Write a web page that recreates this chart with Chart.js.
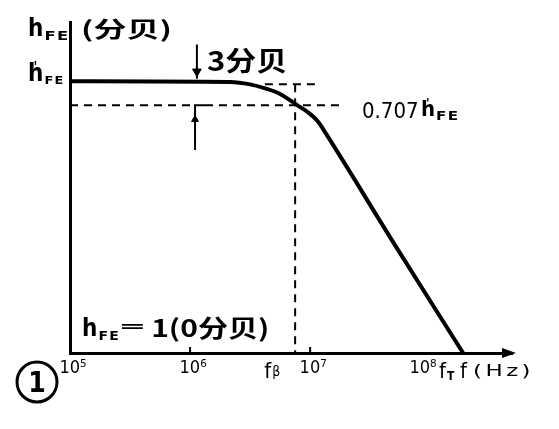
<!DOCTYPE html>
<html>
<head>
<meta charset="utf-8">
<script src="https://cdn.jsdelivr.net/npm/chart.js@4.4.1/dist/chart.umd.min.js"></script>
<style>
html, body { margin: 0; padding: 0; background: #fff; }
</style>
</head>
<body>
<canvas id="chart" width="559" height="429"></canvas>
<script>
// h_FE (in dB) against frequency, log frequency axis

// curve
const freqHz = [1e5, 2.15e6, 3.16e6, 4.22e6, 5.62e6, 7.8e6, 9.6e6, 1.17e7, 1.36e7, 5.06e7, 1.88e8];
const hfeDb  = [34.0, 33.9, 33.6, 33.1, 32.4, 31.0, 30.1, 28.9, 27.4, 13.56, 0];

const tickValues = [1e5, 1e6, 1e7, 1e8];
const tickLabels = ['10⁵', '10⁶', '10⁷', '10⁸    '];

const hfeTopDb = 34.0;     // h'FE
const cornerDb = 31.0;     // 0.707 h'FE
const guideTopDb = 33.6;
const fBeta = 7.5e6;
const fT = 1.88e8;

const latin = '"DejaVu Sans Condensed", "DejaVu Sans", sans-serif';
const cjk = '"Noto Sans CJK SC", sans-serif';

const curve = freqHz.map((f, i) => ({ x: f, y: hfeDb[i] }));

function dashed(points) {
    return {
        data: points,
        borderColor: '#000',
        borderWidth: 2,
        borderDash: [8, 6],
        pointRadius: 0,
        tension: 0
    };
}

function solid(points) {
    return {
        data: points,
        borderColor: '#000',
        borderWidth: 2,
        pointRadius: 0,
        tension: 0
    };
}

// text stretched sideways, returns the right edge
function wideText(ctx, text, x, y, font, scaleX, spacing) {
    ctx.save();
    ctx.font = font;
    ctx.letterSpacing = (spacing || 0) + 'px';
    const w = ctx.measureText(text).width;
    ctx.translate(x, y);
    ctx.scale(scaleX, 1);
    ctx.fillText(text, 0, 0);
    ctx.restore();
    return x + w * scaleX;
}

// "h" with subscript "FE", optional prime
function drawHfe(ctx, x, base, size, subSize, prime, subScale) {
    ctx.font = `bold ${size}px ${latin}`;
    ctx.fillText('h', x, base);
    const w = ctx.measureText('h').width;
    if (prime) {
        ctx.font = `bold ${Math.round(size * 0.6)}px ${latin}`;
        ctx.fillText("'", x + w * 0.35, base - size * 0.42);
    }
    return wideText(ctx, 'FE', x + w + 1, base + Math.round(subSize * 0.3),
        `bold ${subSize}px ${latin}`, subScale, 1);
}

const annotations = {
    id: 'annotations',
    afterDraw(chart) {
        const { ctx, chartArea: a, scales } = chart;
        const sx = scales.x, sy = scales.y;
        ctx.save();
        ctx.fillStyle = '#000';
        ctx.strokeStyle = '#000';

        // arrow on the frequency axis
        ctx.beginPath();
        ctx.moveTo(a.right + 4, a.bottom);
        ctx.lineTo(a.right - 10, a.bottom - 5);
        ctx.lineTo(a.right - 10, a.bottom + 5);
        ctx.closePath();
        ctx.fill();

        // small ticks above the axis
        ctx.lineWidth = 2;
        [1e6, 1e7].forEach(v => {
            const px = sx.getPixelForValue(v);
            ctx.beginPath();
            ctx.moveTo(px, a.bottom);
            ctx.lineTo(px, a.bottom - 6);
            ctx.stroke();
        });

        // y axis title
        drawHfe(ctx, 28, 36, 24, 13, false, 1.4);
        wideText(ctx, '(分贝)', 81, 37, `bold 22px ${cjk}`, 1.5);

        // h'FE level label
        drawHfe(ctx, 28, sy.getPixelForValue(hfeTopDb), 24, 11, true, 1.3);

        // 3 dB note
        wideText(ctx, '3分贝', 207, 71, `bold 27px ${cjk}`, 1.15);

        // 0.707 h'FE
        const yc = sy.getPixelForValue(cornerDb);
        ctx.font = `22px "Liberation Sans Narrow", ${latin}`;
        ctx.fillText('0.707', 362, yc + 13);
        drawHfe(ctx, 421, yc + 11, 22, 12, true, 1.4);

        // hFE = 1 (0 dB)
        const xe = drawHfe(ctx, 82, 336, 24, 12, false, 1.3);
        wideText(ctx, '═', xe + 2, 334, `bold 22px ${latin}`, 1.7);
        wideText(ctx, '1(0分贝)', xe + 31, 337, `bold 24px ${cjk}`, 1.25);

        // frequency labels
        const base = 378;
        const pb = sx.getPixelForValue(fBeta);
        ctx.font = `22px ${latin}`;
        ctx.fillText('f', pb - 31, base);
        ctx.font = `14px ${latin}`;
        ctx.fillText('β', pb - 23, base - 2);

        const pt = sx.getPixelForValue(fT);
        ctx.font = `22px ${latin}`;
        ctx.fillText('f', pt - 24, base);
        ctx.font = `bold 12px ${latin}`;
        ctx.fillText('T', pt - 16, base + 2);

        ctx.font = `22px ${latin}`;
        ctx.fillText('f', pt - 3, base);
        wideText(ctx, '(Hz)', pt + 10, base - 2, `15px ${latin}`, 1.7, 2);

        // circled figure number
        ctx.lineWidth = 3;
        ctx.beginPath();
        ctx.arc(37, 382, 20, 0, Math.PI * 2);
        ctx.stroke();
        ctx.font = `bold 28px ${latin}`;
        ctx.textAlign = 'center';
        ctx.fillText('1', 37, 392);

        ctx.restore();
    }
};

new Chart(document.getElementById('chart'), {
    type: 'line',
    data: {
        datasets: [
            {
                data: curve,
                borderColor: '#000',
                borderWidth: 4,
                pointRadius: 0,
                cubicInterpolationMode: 'monotone'
            },
            dashed([{ x: 1.33e6, y: cornerDb }, { x: 1.88e7, y: cornerDb }]),
            dashed([{ x: 1e5, y: cornerDb }, { x: 1.05e6, y: cornerDb }]),
            dashed([{ x: fBeta, y: guideTopDb }, { x: fBeta, y: 0 }]),
            dashed([{ x: 4.2e6, y: guideTopDb }, { x: 1.2e7, y: guideTopDb }]),
            solid([{ x: 1.14e6, y: 38.6 }, { x: 1.14e6, y: 34.3 }]),
            solid([{ x: 1.1e6, y: 25.4 }, { x: 1.1e6, y: cornerDb }, { x: 1.33e6, y: cornerDb }]),
            {
                data: [{ x: 1.14e6, y: 35.2 }],
                showLine: false,
                pointStyle: 'triangle',
                pointRadius: 5,
                rotation: 180,
                backgroundColor: '#000',
                borderColor: '#000'
            },
            {
                data: [{ x: 1.1e6, y: 29.2 }],
                showLine: false,
                pointStyle: 'triangle',
                pointRadius: 4,
                backgroundColor: '#000',
                borderColor: '#000'
            }
        ]
    },
    options: {
        responsive: false,
        devicePixelRatio: 1,
        animation: false,
        layout: { padding: { top: 22, right: 47, left: 0, bottom: 0 } },
        plugins: {
            legend: { display: false },
            tooltip: { enabled: false }
        },
        scales: {
            x: {
                type: 'logarithmic',
                min: 1e5,
                max: 4.8e8,
                grid: { display: false, drawTicks: false },
                border: { color: '#000', width: 3 },
                afterBuildTicks: s => { s.ticks = tickValues.map(v => ({ value: v })); },
                afterFit: s => { s.height = 76; },
                ticks: {
                    color: '#000',
                    padding: 5,
                    labelOffset: 3,
                    maxRotation: 0,
                    autoSkip: false,
                    font: { family: '"DejaVu Sans Condensed", "DejaVu Sans", sans-serif', size: 18 },
                    callback: (v) => {
                        const i = tickValues.indexOf(v);
                        return i >= 0 ? tickLabels[i] : '';
                    }
                }
            },
            y: {
                type: 'linear',
                min: 0,
                max: 41.4,
                grid: { display: false, drawTicks: false },
                border: { color: '#000', width: 3 },
                ticks: { display: false },
                afterFit: s => { s.width = 70; }
            }
        }
    },
    plugins: [annotations]
});
</script>
</body>
</html>
